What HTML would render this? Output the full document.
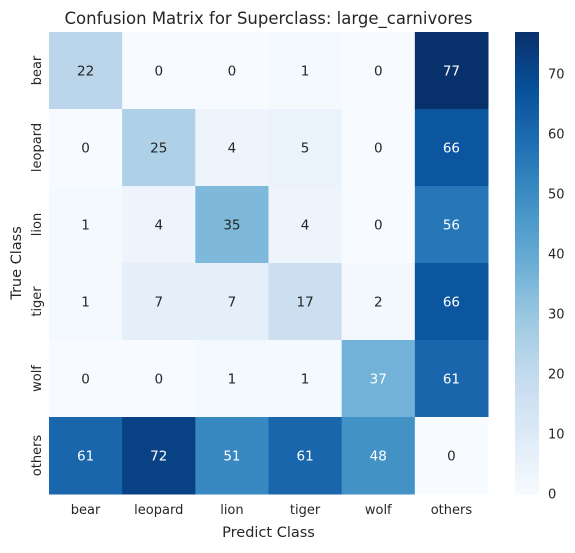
<!DOCTYPE html>
<html><head><meta charset="utf-8"><style>
body{margin:0;background:#fff;font-family:"Liberation Sans","DejaVu Sans",sans-serif}
</style></head><body>
<svg id="c" width="575" height="548" xmlns="http://www.w3.org/2000/svg" font-family="DejaVu Sans, Liberation Sans, sans-serif"></svg>
<script>
const rowLabels=["bear","leopard","lion","tiger","wolf","others"];
const colLabels=["bear","leopard","lion","tiger","wolf","others"];
const matrix=[
[22,0,0,1,0,77],
[0,25,4,5,0,66],
[1,4,35,4,0,56],
[1,7,7,17,2,66],
[0,0,1,1,37,61],
[61,72,51,61,48,0]];
const cbTicks=[0,10,20,30,40,50,60,70];
const vmin=0,vmax=77;
const L=49,R=488,T=32,B=494;
const cw=(R-L)/colLabels.length, ch=(B-T)/rowLabels.length;
const stops=["#f7fbff","#deebf7","#c6dbef","#9ecae1","#6baed6","#4292c6","#2171b5","#08519c","#08306b"].map(h=>[1,3,5].map(i=>parseInt(h.substr(i,2),16)));
function cmap(v){let t=Math.max(0,Math.min(1,(v-vmin)/(vmax-vmin)))*8;let i=Math.min(7,Math.floor(t));let f=t-i;return stops[i].map((c,k)=>Math.round(c+(stops[i+1][k]-c)*f));}
function lum(rgb){const c=rgb.map(x=>{x/=255;return x<=0.03928?x/12.92:Math.pow((x+0.055)/1.055,2.4)});return 0.2126*c[0]+0.7152*c[1]+0.0722*c[2];}
const svg=document.getElementById('c');const NS="http://www.w3.org/2000/svg";
function el(tag,attrs,text){const e=document.createElementNS(NS,tag);for(const k in attrs)e.setAttribute(k,attrs[k]);if(text!==undefined)e.textContent=text;svg.appendChild(e);return e;}
const xs=j=>L+j*cw, ys=i=>T+i*ch;
matrix.forEach((row,i)=>row.forEach((v,j)=>{
 const col=cmap(v);
 const r=el('rect',{x:xs(j),y:ys(i),width:cw+0.5,height:ch+0.5,fill:`rgb(${col})`});
 
 
 const t=el('text',{x:xs(j)+cw/2,y:ys(i)+ch/2+5,'text-anchor':'middle','font-size':13.5,fill:lum(col)>0.42?'#262626':'#ffffff'},v);
 
 
}));
colLabels.forEach((c,j)=>{const t=el('text',{x:xs(j)+cw/2,y:514,'text-anchor':'middle','font-size':13,fill:'#262626'},c);
 
 });
rowLabels.forEach((c,i)=>{const y=ys(i)+ch/2;const t=el('text',{x:0,y:0,transform:`translate(41,${y}) rotate(-90)`,'text-anchor':'middle','font-size':13,fill:'#262626'},c);
 
 });
let t=el('text',{x:(L+R)/2,y:537,'text-anchor':'middle','font-size':14.5,fill:'#262626'},'Predict Class');

t=el('text',{x:0,y:0,transform:`translate(21,${(T+B)/2}) rotate(-90)`,'text-anchor':'middle','font-size':14.5,fill:'#262626'},'True Class');

t=el('text',{x:(L+R)/2,y:24,'text-anchor':'middle','font-size':16.5,fill:'#262626'},'Confusion Matrix for Superclass: large_carnivores');

const cbL=515,cbR=539;const N=100;
for(let k=0;k<N;k++){const v0=vmin+(vmax-vmin)*k/N;const y0=B-(B-T)*(k+1)/N;
 const r=el('rect',{x:cbL,y:y0,width:cbR-cbL,height:(B-T)/N+0.6,fill:`rgb(${cmap(v0+(vmax-vmin)/N/2)})`});
 }
const cbY=v=>B-(v-vmin)/(vmax-vmin)*(B-T);
cbTicks.forEach(v=>{const tt=el('text',{x:548,y:cbY(v)+4.5,'font-size':13,fill:'#262626'},v);
 });
</script>
</body></html>
